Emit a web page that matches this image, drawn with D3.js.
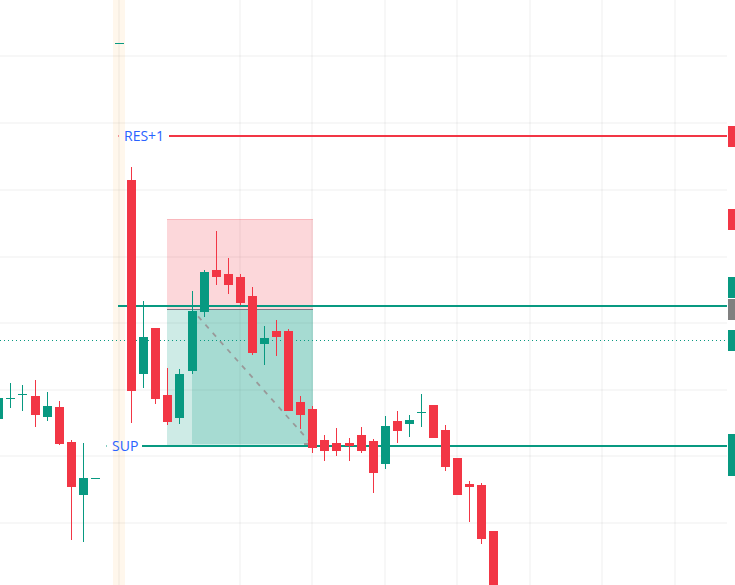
<!DOCTYPE html>
<html><head><meta charset="utf-8">
<script src="https://cdn.jsdelivr.net/npm/d3@7"></script>
<style>html,body{margin:0;padding:0;background:#fff;overflow:hidden}svg{display:block}</style>
</head><body><svg id="c" width="735" height="585"></svg>
<script>
// Bar indexes; index 8 has no candle in the picture.
const bars  = [-1,0,1,2,3,4,5,6,7,9,10,11,12,13,14,15,16,17,18,19,20,21,22,23,24,25,26,27,28,29,30,31,32,33,34,35,36,37,38,39,40];
const opens = [166,186.5,190.5,189,168,178,143,90,106.5,541.5,405,211.3,257,190,167.3,214.3,273.3,315,311,308,289,241,254,254,183,176,145,142,142,150,144,121,164,161,172.5,180,155,127,101,100,54];
const highs = [187,202,200,205,193,184,145,142,107,542,418,284,257,217,216,294,315,354,327,311,298,259,265,256,189,179,150,157,147,158,146,169,174,170,191,180,160,127,104,102,54];
const lows  = [166,177,174.3,158.3,164.3,140,45,43,106,541,162.3,197.3,181,160.3,161.3,211.3,268.3,300.3,291.3,280,230,220,229,174,156,132,124,129,124,132,92,116,142,148,158,147,114,90,63,41,0];
const closes= [187,187,191,170,179,141,98,107,107,542,194.3,248,186.3,163.3,211,274,313,308,300.3,282.3,232,247,248,174,170,137,134,134,139,134,112,159,154,165,173,147,118,90,98,46,0];

const gridPrices = [528.7,461.8,395,328,261.7,195,128.7,61.7];
const gridBars   = [9,19,25,31,37,43,49,55];
const sessionBars = [8.45,9.44];

const resPrice = 449, supPrice = 139, midPrice = 279, dotPrice = 244.5;
const riskBox   = {x0:12.95,x1:25.05,top:366,bottom:276};
const rewardBox = {x0:12.95,x1:25.05,top:276,bottom:139};
const innerBox  = {x0:15,x1:25.05,top:276,bottom:141};
const diagonal  = [{i:15.5,p:268.6},{i:24.68,p:144}];
const targetMark = {i0:24.24,i1:24.8,p:142};
const tags = [
  {top:459,bottom:438,color:"#f23645"},
  {top:376,bottom:355,color:"#f23645"},
  {top:308,bottom:287,color:"#089981"},
  {top:286,bottom:265,color:"#808080"},
  {top:255,bottom:234,color:"#089981"},
  {top:151,bottom:109,color:"#089981"}
];

const UP="#089981", DOWN="#f23645";
const W=735,H=585,plotR=727;
const x=d3.scaleLinear().domain([0,40]).range([10.9,493.98]);
const y=d3.scaleLinear().domain([585,0]).range([0,585]);
const svg=d3.select("#c");

// grid
const gG=svg.append("g").attr("shape-rendering","crispEdges");
gG.selectAll(".h").data(gridPrices).join("line").attr("x1",0).attr("x2",plotR)
  .attr("y1",d=>Math.round(y(d))).attr("y2",d=>Math.round(y(d))).attr("stroke","#000").attr("stroke-opacity",.03).attr("stroke-width",2);
gG.selectAll(".v").data(gridBars).join("line").attr("y1",0).attr("y2",H)
  .attr("x1",d=>Math.floor(x(d))).attr("x2",d=>Math.floor(x(d))).attr("stroke","#000").attr("stroke-opacity",.03).attr("stroke-width",2);

// session band
svg.append("rect").attr("shape-rendering","crispEdges").attr("y",0).attr("height",H)
  .attr("x",Math.round(x(sessionBars[0]))).attr("width",Math.round(x(sessionBars[1]))-Math.round(x(sessionBars[0])))
  .attr("fill","#ff9800").attr("fill-opacity",.075);

// position boxes
function box(b,fill,op){
  svg.append("rect").attr("shape-rendering","crispEdges")
   .attr("x",Math.round(x(b.x0))).attr("width",Math.round(x(b.x1))-Math.round(x(b.x0)))
   .attr("y",y(b.top)).attr("height",y(b.bottom)-y(b.top)).attr("fill",fill).attr("fill-opacity",op);
}
box(riskBox,DOWN,.2); box(rewardBox,UP,.2); box(innerBox,UP,.2);
svg.append("line").attr("x1",Math.round(x(riskBox.x0))).attr("x2",Math.round(x(riskBox.x1)))
  .attr("y1",y(riskBox.top)+.5).attr("y2",y(riskBox.top)+.5).attr("stroke",DOWN).attr("stroke-opacity",.2).attr("shape-rendering","crispEdges");
svg.append("line").attr("x1",Math.round(x(riskBox.x0))).attr("x2",Math.round(x(riskBox.x1)))
  .attr("y1",y(riskBox.bottom)+.5).attr("y2",y(riskBox.bottom)+.5).attr("stroke","#787b86").attr("stroke-width",1).attr("shape-rendering","crispEdges");
svg.append("line").attr("x1",x(diagonal[0].i)).attr("y1",y(diagonal[0].p)).attr("x2",x(diagonal[1].i)).attr("y2",y(diagonal[1].p))
  .attr("stroke","#999").attr("stroke-dasharray","5 6").attr("stroke-width",1.8);
svg.append("rect").attr("shape-rendering","crispEdges")
  .attr("x",x(targetMark.i0)).attr("width",x(targetMark.i1)-x(targetMark.i0)).attr("y",y(targetMark.p)).attr("height",2)
  .attr("fill","#999");

// levels
function level(p,x1,x2,c,dash,w){
  const l=svg.append("line").attr("x1",x1).attr("x2",x2).attr("y1",y(p)).attr("y2",y(p))
   .attr("stroke",c).attr("stroke-width",w).attr("shape-rendering","crispEdges");
  if(dash) l.attr("stroke-dasharray",dash);
}
level(dotPrice,0,725,UP,"1 3",1);
level(midPrice,118,plotR,UP,null,2);
level(resPrice,169,plotR,DOWN,null,2);
level(supPrice,142,plotR,UP,null,2);
svg.append("rect").attr("x",118).attr("y",y(resPrice)-.5).attr("width",1).attr("height",1).attr("fill",DOWN);
svg.append("rect").attr("x",106).attr("y",y(supPrice)-.5).attr("width",1).attr("height",1).attr("fill",UP);

const lab=svg.append("g").attr("font-family","'Open Sans','Noto Sans',sans-serif").attr("font-size",14).attr("fill","#2962ff");
lab.append("text").attr("x",124).attr("y",y(resPrice)).attr("dy","0.36em").text("RES+1");
lab.append("text").attr("x",112).attr("y",y(supPrice)).attr("dy","0.36em").text("SUP");

// candles
const cd=bars.map((b,i)=>({b,o:opens[i],h:highs[i],l:lows[i],c:closes[i]}));
const gC=svg.append("g").attr("shape-rendering","crispEdges");
const col=d=>d.c>=d.o?UP:DOWN;
gC.selectAll(".w").data(cd).join("rect").attr("x",d=>Math.floor(x(d.b))).attr("width",1)
  .attr("y",d=>y(d.h)).attr("height",d=>Math.max(1,y(d.l)-y(d.h))).attr("fill",col);
gC.selectAll(".b").data(cd).join("rect").attr("x",d=>Math.floor(x(d.b))-4).attr("width",9)
  .attr("y",d=>y(Math.max(d.o,d.c))).attr("height",d=>Math.max(1,Math.abs(y(d.o)-y(d.c)))).attr("fill",col);

// right tags
svg.append("g").attr("shape-rendering","crispEdges").selectAll("rect").data(tags).join("rect")
  .attr("x",728).attr("width",7).attr("y",d=>y(d.top)).attr("height",d=>y(d.bottom)-y(d.top)).attr("fill",d=>d.color);
</script></body></html>
